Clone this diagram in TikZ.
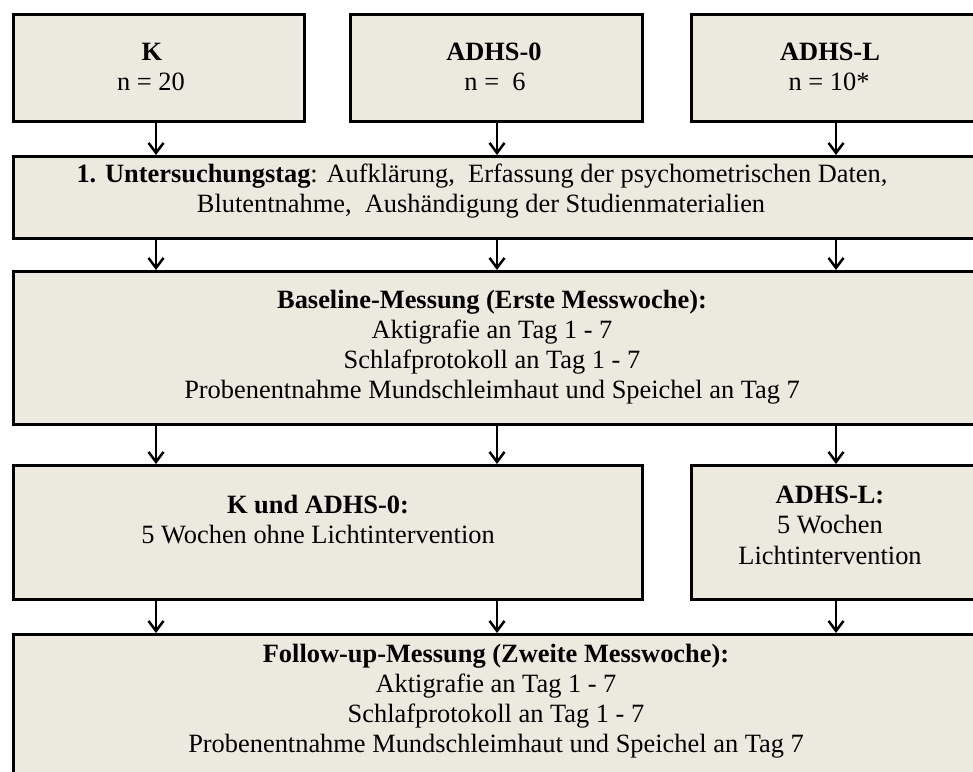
\documentclass[tikz,border=0pt]{standalone}
\usepackage{fontspec}
\setmainfont{Liberation Serif}
\usetikzlibrary{arrows.meta}
\definecolor{boxfill}{HTML}{ECE9DF}
\begin{document}
\begin{tikzpicture}[x=1pt,y=1pt,
  box/.style={draw=black, line width=3pt, fill=boxfill, rectangle, anchor=north west, inner sep=0pt},
  lbl/.style={anchor=base, inner sep=0pt, font=\fontsize{26.4}{30}\selectfont},
  blbl/.style={lbl, font=\fontsize{26.4}{30}\selectfont\bfseries},
  flow/.style={line width=2.5pt, -{Straight Barb[length=10pt,width=15pt]}}]
\useasboundingbox (0,0) rectangle (973,-771);
\clip (0,0) rectangle (973,-771);
% columns for connectors
\coordinate (c1) at (156,0);
\coordinate (c2) at (497,0);
\coordinate (c3) at (836,0);
% boxes
\node[box, minimum width=291, minimum height=107] (k)  at (12,-13) {};
\node[box, minimum width=292, minimum height=107] (a0) at (349,-13) {};
\node[box, minimum width=300, minimum height=107] (al) at (690,-13) {};
\node[box, minimum width=985, minimum height=82]  (u)  at (12,-155) {};
\node[box, minimum width=985, minimum height=153] (b)  at (12,-270) {};
\node[box, minimum width=629, minimum height=134] (kw) at (12,-464) {};
\node[box, minimum width=300, minimum height=134] (lw) at (690,-464) {};
\node[box, minimum width=985, minimum height=170] (f)  at (12,-633) {};
% texts
\node[blbl] (kt1) at (152,-60) {K};
\node[lbl]  (kt2) at (151,-90) {n = 20};
\node[blbl] (at1) at (494,-60) {ADHS-0};
\node[lbl]  (at2) at (495,-90) {n =\ \ 6};
\node[blbl] (lt1) at (830,-60) {ADHS-L};
\node[lbl]  (lt2) at (829,-90) {n = 10*};
\node[lbl]  (ut1) at (482,-182) {\textbf{1. Untersuchungstag}: Aufklärung,\ \ Erfassung der psychometrischen Daten,};
\node[lbl]  (ut2) at (481,-212) {Blutentnahme,\ \ Aushändigung der Studienmaterialien};
\node[blbl] (bt1) at (492,-308) {Baseline-Messung (Erste Messwoche):};
\node[lbl]  (bt2) at (492,-338) {Aktigrafie an Tag 1 - 7};
\node[lbl]  (bt3) at (492,-368) {Schlafprotokoll an Tag 1 - 7};
\node[lbl]  (bt4) at (492,-398) {Probenentnahme Mundschleimhaut und Speichel an Tag 7};
\node[blbl] (kwt1) at (318,-513) {K und ADHS-0:};
\node[lbl]  (kwt2) at (318,-543) {5 Wochen ohne Lichtintervention};
\node[blbl] (lwt1) at (830,-503) {ADHS-L:};
\node[lbl]  (lwt2) at (830,-533) {5 Wochen};
\node[lbl]  (lwt3) at (830,-564) {Lichtintervention};
\node[blbl] (ft1) at (496,-662) {Follow-up-Messung (Zweite Messwoche):};
\node[lbl]  (ft2) at (496,-692) {Aktigrafie an Tag 1 - 7};
\node[lbl]  (ft3) at (496,-722) {Schlafprotokoll an Tag 1 - 7};
\node[lbl]  (ft4) at (496,-752) {Probenentnahme Mundschleimhaut und Speichel an Tag 7};
% connectors
\draw[flow] (k.south -| c1) -- (u.north -| c1);
\draw[flow] (a0.south -| c2) -- (u.north -| c2);
\draw[flow] (al.south -| c3) -- (u.north -| c3);
\draw[flow] (u.south -| c1) -- (b.north -| c1);
\draw[flow] (u.south -| c2) -- (b.north -| c2);
\draw[flow] (u.south -| c3) -- (b.north -| c3);
\draw[flow] (b.south -| c1) -- (kw.north -| c1);
\draw[flow] (b.south -| c2) -- (kw.north -| c2);
\draw[flow] (b.south -| c3) -- (lw.north -| c3);
\draw[flow] (kw.south -| c1) -- (f.north -| c1);
\draw[flow] (kw.south -| c2) -- (f.north -| c2);
\draw[flow] (lw.south -| c3) -- (f.north -| c3);
\end{tikzpicture}
\end{document}
